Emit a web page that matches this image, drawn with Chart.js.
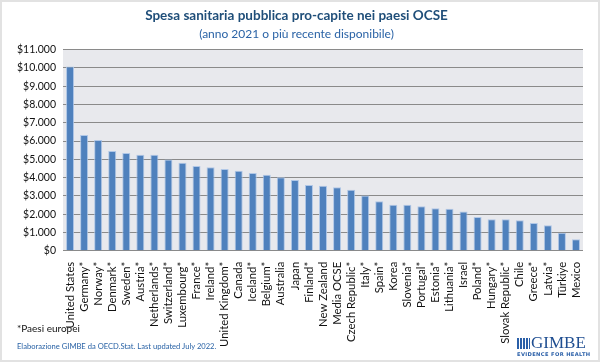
<!DOCTYPE html>
<html lang="it">
<head>
<meta charset="UTF-8">
<title>Spesa sanitaria pubblica pro-capite</title>
<script src="https://cdn.jsdelivr.net/npm/chart.js"></script>
<style>
  html, body { margin: 0; padding: 0; background: #fff; }
  #frame { position: relative; width: 600px; height: 362px; box-sizing: border-box; border: 2px solid #e2e2e2; overflow: hidden; }
  #chart { position: absolute; left: -2px; top: -2px; }
  .note { position: absolute; font-family: Lato, "Open Sans", sans-serif; white-space: nowrap; }
  #logo { position: absolute; left: 514px; top: 333px; width: 72px; height: 26px; }
  #logo .icon { position: absolute; left: 1px; top: 3px; width: 13px; height: 11px; background:
      repeating-linear-gradient(90deg, #2a5fa8 0 2px, #fff 2px 3px),
      #2a5fa8; }
  #logo .name { position: absolute; left: 15px; top: -2px; font-family: "Liberation Serif", serif; font-size: 17px; color: #1f4e91; }
  #logo .tag { position: absolute; left: 1px; top: 16px; white-space: nowrap; font-family: "DejaVu Sans", sans-serif; font-size: 5.2px; font-weight: bold; color: #2a5fa8; letter-spacing: 0.35px; }
</style>
</head>
<body>
<div id="frame">
  <canvas id="chart" width="600" height="362"></canvas>
  <div class="note" style="left:15px; top:320px; font-size:10px; color:#111;">*Paesi europei</div>
  <div class="note" style="left:15px; top:339px; font-size:7.6px; color:#2a63a6;">Elaborazione GIMBE da OECD.Stat. Last updated July 2022.</div>
  <div id="logo"><div class="icon"></div><div class="name">GIMBE</div><div class="tag">EVIDENCE FOR HEALTH</div></div>
</div>
<script>
// Paesi OCSE, spesa sanitaria pubblica pro-capite (USD)
const paesi = ['United States', 'Germany*', 'Norway*', 'Denmark*', 'Sweden*', 'Austria*', 'Netherlands*',
  'Switzerland*', 'Luxembourg*', 'France*', 'Ireland*', 'United Kingdom*', 'Canada', 'Iceland*', 'Belgium*',
  'Australia', 'Japan', 'Finland*', 'New Zealand', 'Media OCSE', 'Czech Republic*', 'Italy*', 'Spain*', 'Korea',
  'Slovenia*', 'Portugal*', 'Estonia*', 'Lithuania*', 'Israel', 'Poland*', 'Hungary*', 'Slovak Republic*',
  'Chile', 'Greece*', 'Latvia*', 'Türkiye', 'Mexico'];
const spesa = [10070, 6330, 6060, 5450, 5340, 5250, 5250, 4990, 4810, 4630, 4560, 4470, 4380, 4250, 4150,
  4020, 3870, 3600, 3550, 3470, 3330, 3020, 2710, 2520, 2520, 2430, 2330, 2300, 2150, 1840, 1720, 1720,
  1670, 1520, 1390, 980, 630];
const yMax = 11000;
const yStep = 1000;

// sfondo grigio dell'area del grafico
const plotBg = {
  id: 'plotBg',
  beforeDraw(chart) {
    const a = chart.chartArea, ctx = chart.ctx;
    ctx.save();
    ctx.fillStyle = '#e8e9ed';
    ctx.fillRect(a.left, a.top, a.right - a.left, a.bottom - a.top);
    ctx.restore();
  }
};

const fmt = v => '$' + String(v).replace(/\B(?=(\d{3})+(?!\d))/g, '.');

new Chart(document.getElementById('chart'), {
  type: 'bar',
  data: {
    labels: paesi,
    datasets: [{
      data: spesa,
      backgroundColor: '#4f81bd',
      borderColor: 'rgba(170,195,230,0.9)',
      borderWidth: { top: 1, left: 1, right: 1, bottom: 0 },
      borderSkipped: 'bottom',
      barPercentage: 0.57,
      categoryPercentage: 1
    }]
  },
  options: {
    responsive: false,
    animation: false,
    layout: { padding: { left: 10, right: 17, top: 0, bottom: 12 } },
    plugins: {
      legend: { display: false },
      tooltip: { enabled: false },
      title: {
        display: true,
        text: 'Spesa sanitaria pubblica pro-capite nei paesi OCSE',
        color: '#1f4e79',
        font: { family: 'Lato', size: 13.5, weight: 'bold' },
        padding: { top: 8, bottom: 3 }
      },
      subtitle: {
        display: true,
        text: '(anno 2021 o più recente disponibile)',
        color: '#2a63a6',
        font: { family: 'Lato', size: 12 },
        padding: { top: 0, bottom: 8 }
      }
    },
    scales: {
      x: {
        grid: { display: false },
        border: { display: false },
        ticks: {
          color: '#111',
          font: { family: 'Lato', size: 11.3 },
          minRotation: 90, maxRotation: 90,
          autoSkip: false,
          padding: 3
        }
      },
      y: {
        min: 0, max: yMax,
        border: { display: false },
        grid: { color: '#8a8a8a', lineWidth: 1, drawTicks: false },
        ticks: {
          stepSize: yStep,
          color: '#111',
          font: { family: 'Lato', size: 10.5 },
          padding: 7,
          callback: v => fmt(v)
        }
      }
    }
  },
  plugins: [plotBg]
});
</script>
</body>
</html>
